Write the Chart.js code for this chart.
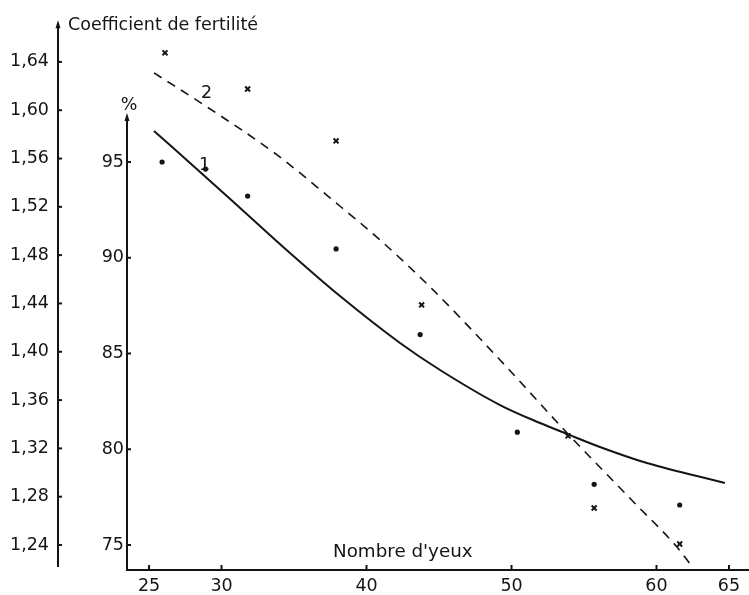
<!DOCTYPE html>
<html><head><meta charset="utf-8">
<script src="https://cdn.jsdelivr.net/npm/chart.js@4/dist/chart.umd.min.js"></script>
<style>html,body{margin:0;padding:0;background:#fff}#wrap{width:749px;height:595px}</style>
</head><body><div id="wrap"><canvas id="c" width="749" height="595"></canvas></div>
<script>
// ---- data ----
const xTicks = [25, 30, 40, 50, 60, 65];
const pctTicks = [75, 80, 85, 90, 95];
const coefTicks = [1.24, 1.28, 1.32, 1.36, 1.40, 1.44, 1.48, 1.52, 1.56, 1.60, 1.64];

// curve 1 : % (observed dots)
const dotX   = [25.9, 28.9, 31.8, 37.9, 43.7, 50.4, 55.7, 61.6];
const dotPct = [95.0, 94.63, 93.22, 90.46, 85.99, 80.89, 78.17, 77.09];
// curve 2 : coefficient de fertilité (observed crosses)
const crossX    = [26.1, 31.8, 37.9, 43.8, 53.9, 55.7, 61.6];
const crossCoef = [1.6475, 1.6176, 1.5746, 1.4388, 1.3303, 1.2706, 1.2408];

// fitted curve 1 (solid)
const curve1X   = [25.34, 28.52, 31.28, 34.72, 38.17, 42.31, 45.07, 49.21, 51.97, 53.83, 56.10, 59.34, 64.72];
const curve1Pct = [96.62, 94.48, 92.60, 90.25, 88.00, 85.55, 84.14, 82.31, 81.37, 80.80, 80.12, 79.28, 78.24];
// fitted curve 2 (dashed)
const curve2X    = [25.34, 29.0, 33.83, 37.48, 40.93, 44.59, 49.21, 53.83, 55.41, 58.52, 61.41, 62.52];
const curve2Coef = [1.6309, 1.6027, 1.5630, 1.5274, 1.4926, 1.4512, 1.3932, 1.3328, 1.3129, 1.2744, 1.2383, 1.2210];

const titleCoef = 'Coefficient de fertilité';
const titlePct = '%';
const titleX = "Nombre d'yeux";
const label1 = '1';
const label2 = '2';

// ---- chart ----
const FONT = '"DejaVu Sans", sans-serif';
const INK = '#141414';
const toPts = (xs, ys) => xs.map((x, i) => ({x: x, y: ys[i]}));

const deco = {
  id: 'deco',
  afterDraw(chart) {
    const ctx = chart.ctx, ca = chart.chartArea;
    const sx = chart.scales.x, sc = chart.scales.coef, sp = chart.scales.pct;
    ctx.save();
    ctx.strokeStyle = INK; ctx.fillStyle = INK; ctx.lineWidth = 2; ctx.lineCap = 'butt';
    const seg = (x1, y1, x2, y2) => { ctx.beginPath(); ctx.moveTo(x1, y1); ctx.lineTo(x2, y2); ctx.stroke(); };
    const arrow = (x, y) => { ctx.beginPath(); ctx.moveTo(x, y - 3); ctx.lineTo(x - 2.5, y + 5); ctx.lineTo(x + 2.5, y + 5); ctx.closePath(); ctx.fill(); };
    // outer axis (coefficient)
    const ox = sc.right;
    const oTop = sc.getPixelForValue(1.672), oBot = sc.getPixelForValue(1.2218);
    seg(ox, oTop, ox, oBot); arrow(ox, oTop);
    coefTicks.forEach(v => { const y = sc.getPixelForValue(v); seg(ox, y, ox + 4, y); });
    // inner axis (%)
    const ix = ca.left;
    const iTop = sp.getPixelForValue(97.4);
    seg(ix, iTop, ix, ca.bottom + 1); arrow(ix, iTop);
    pctTicks.forEach(v => { const y = sp.getPixelForValue(v); seg(ix, y, ix + 4, y); });
    // x axis
    seg(ix - 1, ca.bottom, chart.width, ca.bottom);
    xTicks.forEach(v => { const x = sx.getPixelForValue(v); seg(x, ca.bottom, x, ca.bottom - 5); });
    // titles
    ctx.font = '17.5px ' + FONT; ctx.textBaseline = 'alphabetic';
    ctx.textAlign = 'left';
    ctx.fillText(titleCoef, 68, 30);
    ctx.font = '18.3px ' + FONT;
    ctx.fillText(titleX, 333, 557);
    ctx.font = '17.5px ' + FONT;
    ctx.textAlign = 'center';
    ctx.fillText(titlePct, 129, 110);
    ctx.textAlign = 'left';
    ctx.fillText(label2, 201, 98);
    ctx.fillText(label1, 199, 170);
    ctx.restore();
  }
};

const tickFont = {family: FONT, size: 17.5};
const noGrid = {display: false, drawTicks: false, tickLength: 0};

new Chart(document.getElementById('c'), {
  type: 'scatter',
  data: {
    datasets: [
      {label: 'curve1', data: toPts(curve1X, curve1Pct), yAxisID: 'pct', showLine: true, pointRadius: 0,
       borderColor: INK, borderWidth: 2, cubicInterpolationMode: 'monotone'},
      {label: 'curve2', data: toPts(curve2X, curve2Coef), yAxisID: 'coef', showLine: true, pointRadius: 0,
       borderColor: INK, borderWidth: 1.6, borderDash: [9, 7], cubicInterpolationMode: 'monotone'},
      {label: 'dots', data: toPts(dotX, dotPct), yAxisID: 'pct', pointStyle: 'circle', pointRadius: 2.6,
       backgroundColor: INK, borderWidth: 0},
      {label: 'crosses', data: toPts(crossX, crossCoef), yAxisID: 'coef', pointStyle: 'crossRot', pointRadius: 3.5,
       borderColor: INK, borderWidth: 2}
    ]
  },
  options: {
    responsive: false, animation: false, devicePixelRatio: 1,
    layout: {autoPadding: false, padding: {top: 20, left: 0, right: 0, bottom: 0}},
    plugins: {legend: {display: false}, tooltip: {enabled: false}},
    scales: {
      x: {type: 'linear', position: 'bottom', min: 23.48, max: 66.38,
          grid: noGrid, border: {display: false},
          ticks: {font: tickFont, color: INK, padding: 6, autoSkip: false, maxRotation: 0, callback: v => String(v)},
          afterBuildTicks: s => { s.ticks = xTicks.map(v => ({value: v})); },
          afterFit: s => { s.height = 25; s.paddingLeft = 0; s.paddingRight = 0; }},
      coef: {type: 'linear', position: 'left', weight: 2, min: 1.2193, max: 1.6747,
          grid: noGrid, border: {display: false},
          ticks: {font: tickFont, color: INK, padding: 9, autoSkip: false, callback: v => v.toFixed(2).replace('.', ',')},
          afterBuildTicks: s => { s.ticks = coefTicks.map(v => ({value: v})); },
          afterFit: s => { s.width = 58; s.paddingTop = 0; s.paddingBottom = 0; }},
      pct: {type: 'linear', position: 'left', weight: 1, min: 73.695, max: 102.415,
          grid: noGrid, border: {display: false},
          ticks: {font: tickFont, color: INK, padding: 3, autoSkip: false, callback: v => String(v)},
          afterBuildTicks: s => { s.ticks = pctTicks.map(v => ({value: v})); },
          afterFit: s => { s.width = 69; s.paddingTop = 0; s.paddingBottom = 0; }}
    }
  },
  plugins: [deco]
});
</script>
</body></html>
